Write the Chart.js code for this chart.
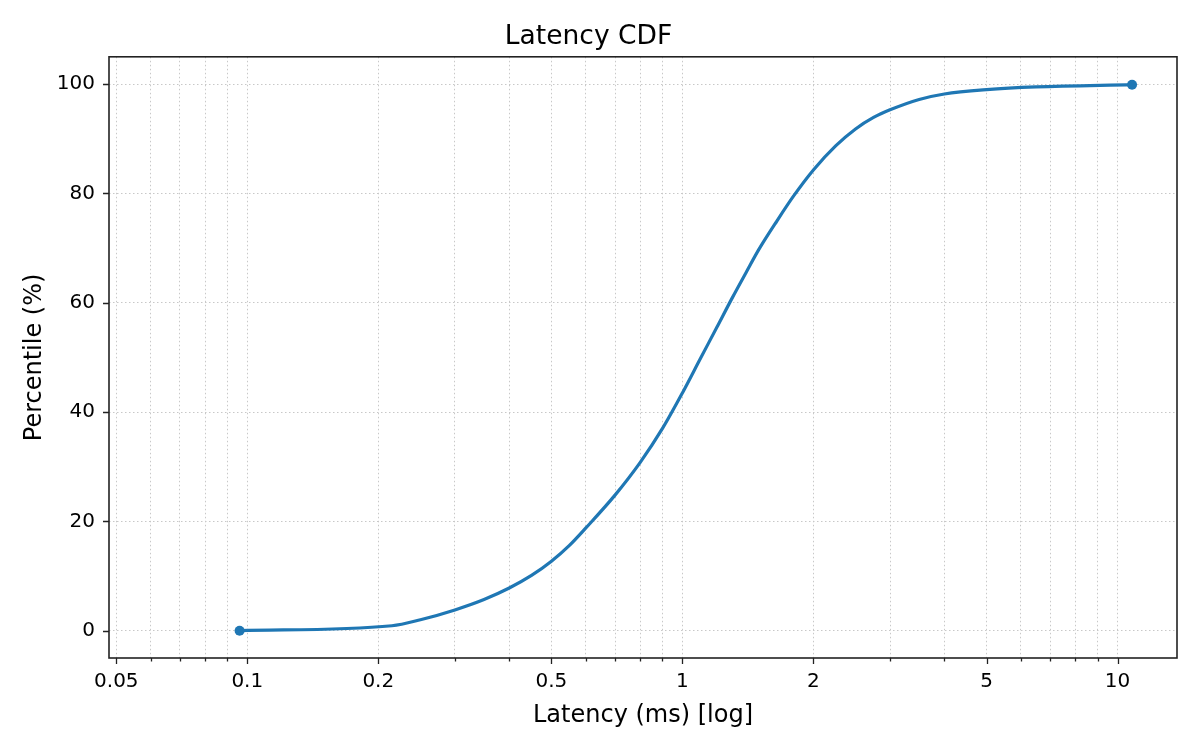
<!DOCTYPE html>
<html>
<head>
<meta charset="utf-8">
<title>Latency CDF</title>
<script src="https://cdn.jsdelivr.net/npm/chart.js@4/dist/chart.umd.min.js"></script>
<style>
  html, body { margin: 0; padding: 0; background: #fff; }
  #wrap { width: 1200px; height: 750px; }
</style>
</head>
<body>
<div id="wrap"><canvas id="cdfChart" width="1200" height="750"></canvas></div>
<script>
// Latency samples (ms) and their percentile
const latencyMs = [0.096, 0.215, 0.25, 0.3, 0.35, 0.4, 0.45, 0.5, 0.55, 0.6, 0.7, 0.8, 0.9,
    1.0, 1.1, 1.2, 1.3, 1.4, 1.5, 1.65, 1.8, 2.0, 2.25, 2.5, 2.75, 3.0, 3.5, 4.0, 5.0, 6.5, 10.8];
const percentile = [0, 0.9, 2.0, 3.8, 5.7, 7.8, 10.1, 12.7, 15.6, 18.8, 24.8, 30.8, 37.0,
    43.5, 49.8, 55.5, 60.8, 65.5, 69.8, 75.0, 79.5, 84.3, 88.7, 91.8, 93.9, 95.3, 97.2, 98.2, 99.0, 99.5, 99.9];

// Axis ticks
const xTicks = [0.05, 0.06, 0.07, 0.08, 0.09, 0.1, 0.2, 0.3, 0.4, 0.5, 0.6, 0.7, 0.8, 0.9,
    1, 2, 3, 4, 5, 6, 7, 8, 9, 10];
const xTickLabels = ['0.05', '0.1', '0.2', '0.5', '1', '2', '5', '10'];
const yTicks = [0, 20, 40, 60, 80, 100];

const FONT = "'DejaVu Sans', 'Liberation Sans', sans-serif";
const LINE_COLOR = '#1f77b4';
const GRID_COLOR = '#c8c8c8';

function labelFor(v) {
    const s = String(+v.toFixed(3));
    return xTickLabels.includes(s) ? s : '';
}

// Frame around the plot area plus matplotlib-like tick marks
const framePlugin = {
    id: 'frame',
    afterDraw(chart) {
        const ctx = chart.ctx;
        const area = chart.chartArea;
        const x = chart.scales.x;
        const y = chart.scales.y;
        ctx.save();
        ctx.strokeStyle = '#222';
        ctx.lineWidth = 1.3;
        ctx.beginPath();
        x.ticks.forEach(t => {
            const px = Math.round(x.getPixelForValue(t.value)) + 0.5;
            const len = labelFor(t.value) ? 6 : 3.5;
            ctx.moveTo(px, area.bottom);
            ctx.lineTo(px, area.bottom + len);
        });
        y.ticks.forEach(t => {
            const py = Math.round(y.getPixelForValue(t.value)) + 0.5;
            ctx.moveTo(area.left, py);
            ctx.lineTo(area.left - 6, py);
        });
        ctx.stroke();
        ctx.lineWidth = 1.6;
        ctx.strokeRect(area.left, area.top, area.right - area.left, area.bottom - area.top);
        ctx.restore();
    }
};

function drawChart() {
    const ctx = document.getElementById('cdfChart').getContext('2d');
    const last = latencyMs.length - 1;
    const points = latencyMs.map((v, i) => ({ x: v, y: percentile[i] }));

    new Chart(ctx, {
        type: 'line',
        data: {
            datasets: [{
                label: 'CDF',
                data: points,
                borderColor: LINE_COLOR,
                backgroundColor: LINE_COLOR,
                borderWidth: 3.2,
                cubicInterpolationMode: 'monotone',
                pointRadius: c => (c.dataIndex === 0 || c.dataIndex === last) ? 5 : 0,
                pointBorderWidth: 0,
                pointBackgroundColor: LINE_COLOR
            }]
        },
        options: {
            responsive: false,
            devicePixelRatio: 1,
            animation: false,
            layout: { padding: { top: 0, right: 23, bottom: 0, left: 0 } },
            plugins: {
                legend: { display: false },
                tooltip: { enabled: false },
                title: {
                    display: true,
                    text: 'Latency CDF',
                    color: '#000',
                    font: { family: FONT, size: 26.5, weight: 'normal' },
                    padding: { top: 21, bottom: 4 }
                }
            },
            scales: {
                x: {
                    type: 'logarithmic',
                    min: 0.0481,
                    max: 13.7,
                    afterBuildTicks: s => { s.ticks = xTicks.map(v => ({ value: v })); },
                    afterFit: s => { s.height = 92; },
                    ticks: {
                        color: '#000',
                        font: { family: FONT, size: 20 },
                        padding: 12,
                        maxRotation: 0,
                        autoSkip: false,
                        callback: v => labelFor(v)
                    },
                    grid: {
                        color: GRID_COLOR,
                        lineWidth: 1,
                        drawTicks: false
                    },
                    border: { display: false, dash: [1.5, 2.5] },
                    title: {
                        display: true,
                        text: 'Latency (ms) [log]',
                        color: '#000',
                        font: { family: FONT, size: 24 },
                        padding: { top: 0, bottom: 20 }
                    }
                },
                y: {
                    type: 'linear',
                    min: -5,
                    max: 105,
                    afterBuildTicks: s => { s.ticks = yTicks.map(v => ({ value: v })); },
                    afterFit: s => { s.width = 109; },
                    ticks: {
                        color: '#000',
                        font: { family: FONT, size: 20 },
                        padding: 14
                    },
                    grid: {
                        color: GRID_COLOR,
                        lineWidth: 1,
                        drawTicks: false
                    },
                    border: { display: false, dash: [1.5, 2.5] },
                    title: {
                        display: true,
                        text: 'Percentile (%)',
                        color: '#000',
                        font: { family: FONT, size: 24 },
                        padding: { top: 20, bottom: 0 }
                    }
                }
            }
        },
        plugins: [framePlugin]
    });
}

document.addEventListener('DOMContentLoaded', drawChart);
</script>
</body>
</html>
